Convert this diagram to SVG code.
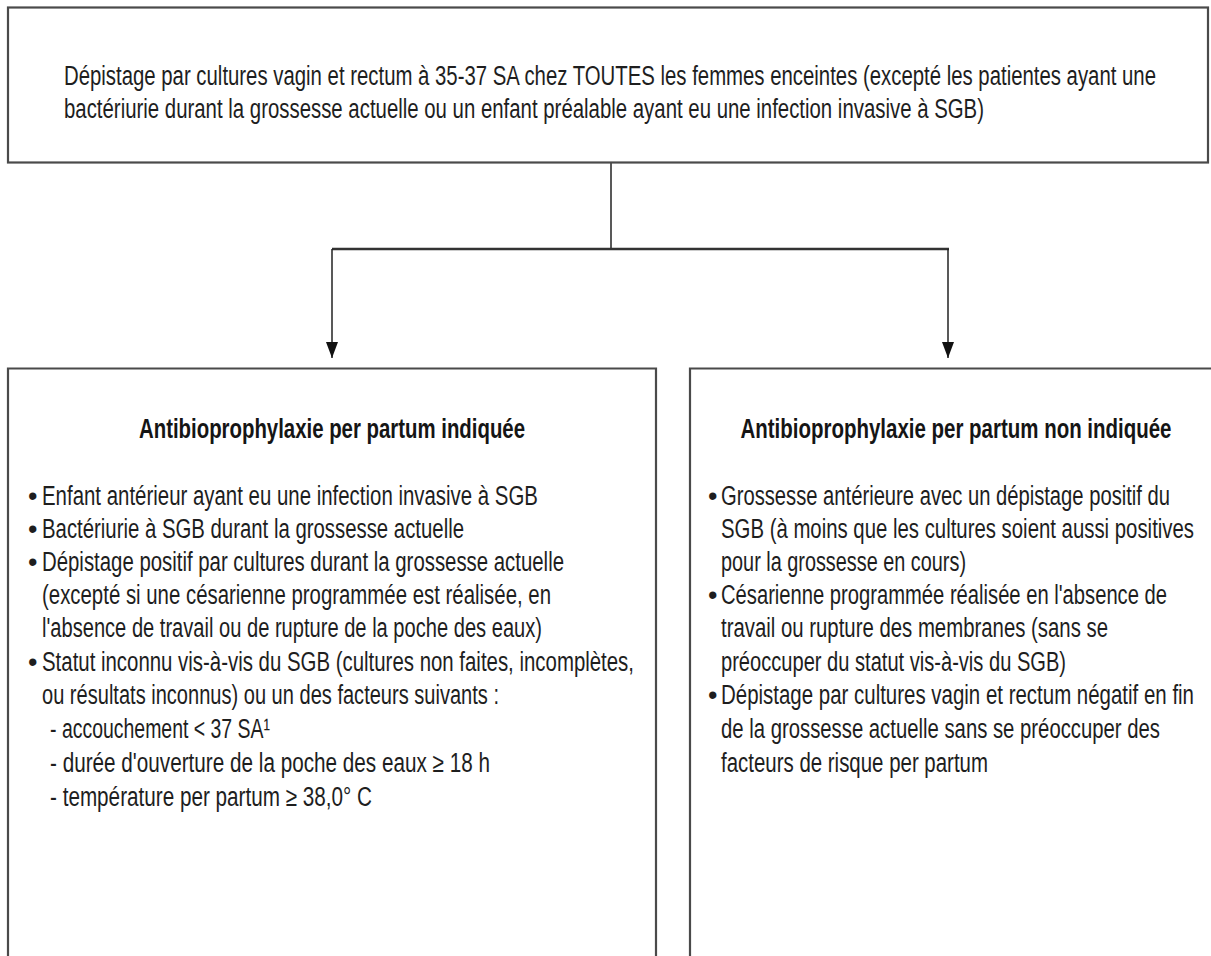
<svg xmlns="http://www.w3.org/2000/svg" width="1211" height="956" viewBox="0 0 1211 956">
<defs>
<marker id="arr" markerWidth="16" markerHeight="12" refX="16" refY="6" orient="auto" markerUnits="userSpaceOnUse" viewBox="0 0 16 12">
<path d="M0,0 L16,6 L0,12 Z" fill="#111"/>
</marker>
<style>
.box{fill:#fff;stroke:#4a4a4a;stroke-width:2.2}
.t{font-family:"Liberation Sans",Arial,sans-serif;font-size:27px;fill:#1e1e1e}
.h{font-family:"Liberation Sans",Arial,sans-serif;font-size:27px;font-weight:bold;fill:#151515}
.ln{fill:none;stroke:#222;stroke-width:1.5}
.hl{fill:none;stroke:#333;stroke-width:2.5}
</style>
</defs>
<rect width="1211" height="956" fill="#fff"/>
<g id="connectors">
<line class="ln" x1="611" y1="163" x2="611" y2="249"/>
<line class="hl" x1="332" y1="249" x2="949" y2="249"/>
<line class="ln" x1="332" y1="249" x2="332" y2="358" marker-end="url(#arr)"/>
<line class="ln" x1="948" y1="249" x2="948" y2="358" marker-end="url(#arr)"/>
</g>
<g id="screening">
<rect class="box" x="8" y="7.5" width="1200" height="155"/>
<text class="t" x="64" y="85" textLength="1092" lengthAdjust="spacingAndGlyphs">Dépistage par cultures vagin et rectum à 35-37 SA chez TOUTES les femmes enceintes (excepté les patientes ayant une</text>
<text class="t" x="64" y="118" textLength="920" lengthAdjust="spacingAndGlyphs">bactériurie durant la grossesse actuelle ou un enfant préalable ayant eu une infection invasive à SGB)</text>
</g>
<g id="indicated">
<path class="box" d="M8,970 L8,368.5 L656,368.5 L656,970"/>
<text class="h" x="332" y="438" text-anchor="middle" textLength="386" lengthAdjust="spacingAndGlyphs">Antibioprophylaxie per partum indiquée</text>
<text class="t" x="28" y="505">•</text>
<text class="t" x="42" y="505" textLength="496" lengthAdjust="spacingAndGlyphs">Enfant antérieur ayant eu une infection invasive  à SGB</text>
<text class="t" x="28" y="538">•</text>
<text class="t" x="42" y="538" textLength="422" lengthAdjust="spacingAndGlyphs">Bactériurie à SGB durant la grossesse actuelle</text>
<text class="t" x="28" y="571">•</text>
<text class="t" x="42" y="571" textLength="522" lengthAdjust="spacingAndGlyphs">Dépistage positif par cultures durant la grossesse actuelle</text>
<text class="t" x="42" y="604" textLength="509" lengthAdjust="spacingAndGlyphs">(excepté si une césarienne programmée est réalisée, en</text>
<text class="t" x="42" y="637" textLength="500" lengthAdjust="spacingAndGlyphs">l'absence de travail ou de rupture de la poche des eaux)</text>
<text class="t" x="28" y="671">•</text>
<text class="t" x="42" y="671" textLength="592" lengthAdjust="spacingAndGlyphs">Statut inconnu vis-à-vis du SGB (cultures non faites, incomplètes,</text>
<text class="t" x="42" y="704" textLength="457" lengthAdjust="spacingAndGlyphs">ou résultats inconnus) ou un des facteurs suivants :</text>
<text class="t" x="50" y="738" textLength="220" lengthAdjust="spacingAndGlyphs">- accouchement &lt; 37 SA¹</text>
<text class="t" x="50" y="772" textLength="440" lengthAdjust="spacingAndGlyphs">- durée d'ouverture de la poche des eaux ≥ 18 h</text>
<text class="t" x="50" y="806" textLength="322" lengthAdjust="spacingAndGlyphs">- température per partum ≥ 38,0° C</text>
</g>
<g id="not-indicated">
<path class="box" d="M690,970 L690,368.5 L1220,368.5"/>
<text class="h" x="956" y="438" text-anchor="middle" textLength="431" lengthAdjust="spacingAndGlyphs">Antibioprophylaxie per partum non indiquée</text>
<text class="t" x="708" y="505">•</text>
<text class="t" x="721" y="505" textLength="449" lengthAdjust="spacingAndGlyphs">Grossesse antérieure avec un dépistage positif du</text>
<text class="t" x="721" y="538" textLength="473" lengthAdjust="spacingAndGlyphs">SGB (à moins que les cultures soient aussi positives</text>
<text class="t" x="721" y="571" textLength="245" lengthAdjust="spacingAndGlyphs">pour la grossesse en cours)</text>
<text class="t" x="708" y="604">•</text>
<text class="t" x="721" y="604" textLength="446" lengthAdjust="spacingAndGlyphs">Césarienne programmée réalisée en l'absence de</text>
<text class="t" x="721" y="637" textLength="387" lengthAdjust="spacingAndGlyphs">travail ou rupture des membranes (sans se</text>
<text class="t" x="721" y="671" textLength="345" lengthAdjust="spacingAndGlyphs">préoccuper du statut vis-à-vis du SGB)</text>
<text class="t" x="708" y="704">•</text>
<text class="t" x="721" y="704" textLength="473" lengthAdjust="spacingAndGlyphs">Dépistage par cultures vagin et rectum négatif en fin</text>
<text class="t" x="721" y="738" textLength="439" lengthAdjust="spacingAndGlyphs">de la grossesse actuelle sans se préoccuper des</text>
<text class="t" x="721" y="772" textLength="267" lengthAdjust="spacingAndGlyphs">facteurs de risque per partum</text>
</g>
</svg>
